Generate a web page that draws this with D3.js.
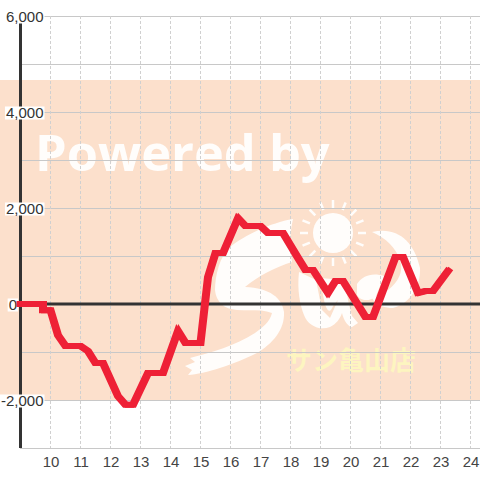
<!DOCTYPE html>
<html>
<head>
<meta charset="utf-8">
<script src="https://d3js.org/d3.v7.min.js"></script>
<style>
  html, body { margin: 0; padding: 0; background: #fff; }
  svg { display: block; }
  text { font-family: "Liberation Sans", Arial, sans-serif; }
</style>
</head>
<body>
<svg id="vis" width="480" height="480"></svg>
<script>
  // hour of day, balance
  var hours = [9, 9.75, 9.75, 10, 10.25, 10.5, 11, 11.25, 11.5, 11.75, 12.25, 12.5, 12.75, 13.25, 13.75,
    14.25, 14.5, 15, 15.25, 15.5, 15.75, 16.25, 16.5, 17, 17.25, 17.75, 18.25, 18.5, 18.75, 19.25,
    19.5, 19.75, 20.5, 20.75, 21.5, 21.75, 22.25, 22.5, 22.75, 23.25];
  var balance = [0, 0, -130, -130, -650, -875, -875, -980, -1230, -1230, -1920, -2100, -2100, -1440, -1440,
    -560, -810, -810, 560, 1060, 1060, 1790, 1625, 1625, 1480, 1480, 960, 710, 710, 230,
    480, 480, -270, -270, 980, 980, 230, 270, 270, 690];
  var xTicks = [10, 11, 12, 13, 14, 15, 16, 17, 18, 19, 20, 21, 22, 23, 24];
  var yGrid = [-3000, -2000, -1000, 1000, 2000, 3000, 4000, 5000, 6000];
  var yLabels = [-2000, 0, 2000, 4000, 6000];

  var svg = d3.select("#vis");

  var x = d3.scaleLinear().domain([9, 24]).range([20.5, 470.5]);
  var y = d3.scaleLinear().domain([-3000, 6000]).range([448, 16]);

  // watermark block
  svg.append("rect").attr("x", 0).attr("y", 80).attr("width", 480).attr("height", 320).attr("fill", "#fce0cc");

  var logo = svg.append("g").attr("fill", "#fffdfb");
  logo.append("text")
    .attr("x", 35).attr("y", 171)
    .style("font-family", "'Open Sans'")
    .style("font-weight", 700)
    .style("font-size", "50.5px")
    .text("Powered by");

  // S
  logo.append("path").attr("d", "M293,219 C270,223 245,235 230,247 C220,256 215,275 215,290 C216,302 224,309 237,310 C250,311 262,309 272,313 C270,322 262,328 255,333 C235,346 212,352 190,358 L195,362 L185,366 L192,370 L188,375 C205,374 235,364 257,353 C272,344 285,330 284,312 C282,298 270,288 245,287 C258,276 276,267 292,262 C289,246 290,232 293,219 Z");
  // u
  logo.append("path").attr("d", "M299,272 C297,290 300,305 304,315 C308,326 320,331 330,327 C336,324 340,319 342,313 C344,322 350,328 352,327 L358,323 L352,316 C349,306 347,292 343,280 L320,278 L324,300 C326,310 330,315 333,306 L338,300 L330,318 L322,310 L316,280 Z");
  // n
  logo.append("path").attr("d", "M357,284 C362,276 372,272 384,276 L376,296 C368,303 360,300 357,295 Z");
  logo.append("path").attr("d", "M372,232 C396,226 414,240 420,268 C421,286 410,304 393,308 C386,308 376,306 372,298 L388,290 C398,282 404,272 400,260 C396,248 386,238 372,232 Z");
  // sun
  logo.append("circle").attr("cx", 333).attr("cy", 233).attr("r", 20);
  d3.range(0, 360, 22.5).forEach(function(a) {
    var r = a * Math.PI / 180;
    logo.append("line")
      .attr("x1", 333 + 25 * Math.cos(r)).attr("y1", 233 + 25 * Math.sin(r))
      .attr("x2", 333 + 33 * Math.cos(r)).attr("y2", 233 + 33 * Math.sin(r))
      .attr("stroke", "#fffdfb").attr("stroke-width", 2.5);
  });
  svg.append("text")
    .attr("x", 351).attr("y", 370)
    .attr("text-anchor", "middle")
    .attr("fill", "#fdf5c0")
    .style("font-family", "'Noto Sans CJK JP'")
    .style("font-weight", 700)
    .style("font-size", "26px")
    .text("サン亀山店");

  // grid
  svg.append("g").selectAll("line").data(yGrid).enter().append("line")
    .attr("x1", 20).attr("x2", 480)
    .attr("y1", function(d) { return Math.round(y(d)) + 0.5; })
    .attr("y2", function(d) { return Math.round(y(d)) + 0.5; })
    .attr("stroke", "#c8c8c8");

  svg.append("g").selectAll("line").data(xTicks).enter().append("line")
    .attr("x1", function(d) { return x(d); })
    .attr("x2", function(d) { return x(d); })
    .attr("y1", 16).attr("y2", 448)
    .attr("stroke", "#d0d0d0")
    .attr("stroke-dasharray", "3,2");

  // zero line and left axis
  svg.append("line")
    .attr("x1", 20).attr("x2", 480)
    .attr("y1", y(0)).attr("y2", y(0))
    .attr("stroke", "#333").attr("stroke-width", 3);
  svg.append("line")
    .attr("x1", x(9)).attr("x2", x(9))
    .attr("y1", 16).attr("y2", 448)
    .attr("stroke", "#333").attr("stroke-width", 3);

  // y labels sit on a white box, the 0 is pushed left of the axis
  var labels = svg.append("g").selectAll("g").data(yLabels).enter().append("g");
  labels.append("text")
    .attr("x", function(d) { return d == 0 ? 17 : 43.5; })
    .attr("y", function(d) { return y(d) + 6; })
    .attr("text-anchor", "end")
    .attr("fill", "#333")
    .style("font-size", "15px")
    .text(function(d) { return d3.format(",")(d).replace("\u2212", "-"); });
  labels.insert("rect", "text")
    .each(function(d) {
      var b = this.parentNode.querySelector("text").getBBox();
      d3.select(this)
        .attr("x", b.x - 1).attr("width", b.width + 2)
        .attr("y", y(d) - 5.5).attr("height", 13);
    })
    .attr("fill", "#fff");

  // x labels
  svg.append("g").selectAll("text").data(xTicks).enter().append("text")
    .attr("x", function(d) { return x(d) + 0.5; })
    .attr("y", 467)
    .attr("text-anchor", "middle")
    .attr("fill", "#444")
    .style("font-size", "15px")
    .text(function(d) { return d; });

  // balance line, drawn twice a pixel apart because it is wider on the slopes than on the flats
  var line = d3.line()
    .x(function(d) { return x(d); })
    .y(function(d, i) { return y(balance[i]); });

  svg.append("g").selectAll("path").data([-1, 1]).enter().append("path")
    .attr("d", line(hours))
    .attr("transform", function(d) { return "translate(" + d + ",0)"; })
    .attr("fill", "none")
    .attr("stroke", "#ee2036")
    .attr("stroke-width", 6)
    .attr("stroke-linecap", "square")
    .attr("stroke-linejoin", "miter");
</script>
</body>
</html>
